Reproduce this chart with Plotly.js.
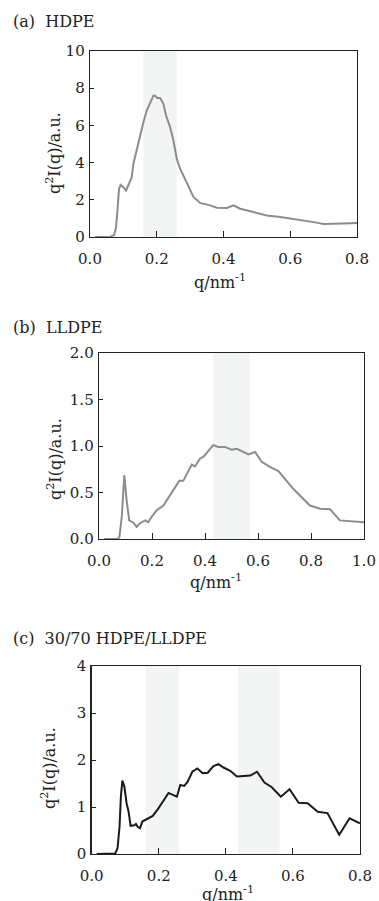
<!DOCTYPE html>
<html>
<head>
<meta charset="utf-8">
<script src="https://cdn.plot.ly/plotly-3.0.1.min.js"></script>
<style>html,body{margin:0;padding:0;background:#fff;}#chart{width:379px;height:901px;}</style>
</head>
<body>
<div id="chart"></div>
<script>
// Panel (a) HDPE
const qA = [0.015,0.04,0.06,0.072,0.078,0.083,0.087,0.092,0.1,0.108,0.117,0.125,0.13,0.14,0.15,0.16,0.17,0.18,0.19,0.195,0.202,0.21,0.22,0.228,0.24,0.25,0.26,0.27,0.29,0.31,0.33,0.36,0.38,0.41,0.43,0.45,0.49,0.53,0.57,0.6,0.63,0.65,0.67,0.7,0.73,0.76,0.8];
const iA = [0,0,0.02,0.1,0.5,1.6,2.6,2.8,2.68,2.5,2.86,3.2,3.94,4.74,5.37,6.17,6.8,7.25,7.6,7.6,7.47,7.47,7.16,6.53,5.9,5.19,4.2,3.67,2.86,2.15,1.83,1.7,1.57,1.56,1.7,1.52,1.34,1.16,1.07,1.0,0.92,0.88,0.8,0.7,0.7,0.73,0.75];
// Panel (b) LLDPE
const qB = [0.02,0.05,0.07,0.077,0.086,0.0956,0.104,0.114,0.13,0.142,0.155,0.174,0.186,0.199,0.218,0.243,0.274,0.303,0.318,0.35,0.362,0.381,0.396,0.431,0.45,0.475,0.5,0.52,0.564,0.589,0.614,0.645,0.677,0.733,0.796,0.834,0.872,0.909,1.0];
const iB = [0,0,0,0.02,0.24,0.686,0.42,0.2,0.175,0.13,0.17,0.2,0.18,0.24,0.31,0.36,0.49,0.625,0.625,0.8,0.78,0.864,0.89,1.01,0.99,0.99,0.96,0.97,0.91,0.935,0.83,0.775,0.73,0.54,0.36,0.325,0.32,0.2,0.18];
// Panel (c) 30/70 HDPE/LLDPE
const qC = [0.015,0.04,0.07,0.077,0.083,0.087,0.0915,0.0975,0.104,0.11,0.116,0.127,0.132,0.137,0.144,0.151,0.164,0.182,0.199,0.229,0.254,0.264,0.276,0.286,0.3,0.315,0.331,0.346,0.363,0.378,0.393,0.413,0.433,0.473,0.493,0.515,0.537,0.564,0.59,0.617,0.644,0.674,0.703,0.738,0.769,0.8];
const iC = [0,0,0.01,0.12,0.58,1.22,1.56,1.43,1.08,0.9,0.6,0.61,0.64,0.58,0.55,0.69,0.74,0.81,0.97,1.3,1.22,1.47,1.45,1.54,1.75,1.82,1.72,1.73,1.87,1.91,1.84,1.77,1.65,1.67,1.75,1.52,1.42,1.22,1.38,1.09,1.08,0.9,0.87,0.41,0.76,0.65];

// shaded q-bands
const bandsA = [[0.16, 0.26]];
const bandsB = [[0.43, 0.57]];
const bandsC = [[0.162, 0.26], [0.436, 0.56]];

const panelTitles = ["(a)  HDPE", "(b)  LLDPE", "(c)  30/70 HDPE/LLDPE"];
const yTitle = "q<sup>2</sup>I(q)/a.u.";
const xTitle = "q/nm<sup>-1</sup>";

const W = 379, H = 901;
const FONT = "DejaVu Serif, serif";
const INK = "#222";

function px(x){ return x / W; }
function py(y){ return 1 - y / H; }

const traces = [
  {x: qA, y: iA, xaxis: 'x', yaxis: 'y', mode: 'lines', line: {color: '#8c8c8c', width: 2}},
  {x: qB, y: iB, xaxis: 'x2', yaxis: 'y2', mode: 'lines', line: {color: '#8c8c8c', width: 2}},
  {x: qC, y: iC, xaxis: 'x3', yaxis: 'y3', mode: 'lines', line: {color: '#1a1a1a', width: 2}}
];

function axis(extra){
  return Object.assign({
    showline: true, mirror: true, linecolor: INK, linewidth: 1.3,
    ticks: 'inside', tickcolor: INK, tickwidth: 1,
    showgrid: false, zeroline: false,
    tickfont: {family: FONT, size: 15, color: INK},
    fixedrange: true
  }, extra);
}
function xaxis(extra){ return axis(Object.assign({dtick: 0.2, tickformat: '.1f', ticklen: 6, ticklabelstandoff: 8}, extra)); }
function yaxis(extra){ return axis(Object.assign({ticklen: 4, ticklabelstandoff: 1}, extra)); }

const shapes = [];
function addBands(bands, xr, yr){
  bands.forEach(b => shapes.push({type: 'rect', xref: xr, yref: yr + ' domain', x0: b[0], x1: b[1], y0: 0, y1: 1,
    fillcolor: '#f2f5f4', line: {width: 0}, layer: 'below'}));
}
addBands(bandsA, 'x', 'y');
addBands(bandsB, 'x2', 'y2');
addBands(bandsC, 'x3', 'y3');

const ann = [];
function txt(text, x, y, opts){
  ann.push(Object.assign({text: text, x: px(x), y: py(y), xref: 'paper', yref: 'paper', showarrow: false,
    font: {family: FONT, size: 16, color: INK}, xanchor: 'center', yanchor: 'middle'}, opts || {}));
}
txt(panelTitles[0], 11, 21, {xanchor: 'left'});
txt(panelTitles[1], 11, 327, {xanchor: 'left'});
txt(panelTitles[2], 11, 638, {xanchor: 'left'});
txt(yTitle, 54, 153, {textangle: -90});
txt(yTitle, 54, 459, {textangle: -90});
txt(yTitle, 48, 768, {textangle: -90});
txt(xTitle, 220, 281);
txt(xTitle, 216, 581);
txt(xTitle, 228, 893);

const layout = {
  width: W, height: H,
  margin: {l: 0, r: 0, t: 0, b: 0},
  paper_bgcolor: '#fff', plot_bgcolor: '#fff',
  showlegend: false,
  xaxis: xaxis({domain: [px(90), px(357)], range: [0, 0.8], anchor: 'y'}),
  yaxis: yaxis({domain: [py(237), py(51)], range: [0, 10], dtick: 2, anchor: 'x'}),
  xaxis2: xaxis({domain: [px(99), px(364)], range: [0, 1.0], anchor: 'y2'}),
  yaxis2: yaxis({domain: [py(539), py(353)], range: [0, 2], dtick: 0.5, tickformat: '.1f', anchor: 'x2'}),
  xaxis3: xaxis({domain: [px(91.7), px(360)], range: [0, 0.8], anchor: 'y3'}),
  yaxis3: yaxis({domain: [py(854), py(666)], range: [0, 4], dtick: 1, anchor: 'x3'}),
  shapes: shapes,
  annotations: ann
};

Plotly.newPlot('chart', traces, layout, {displayModeBar: false, staticPlot: true});
</script>
</body>
</html>
